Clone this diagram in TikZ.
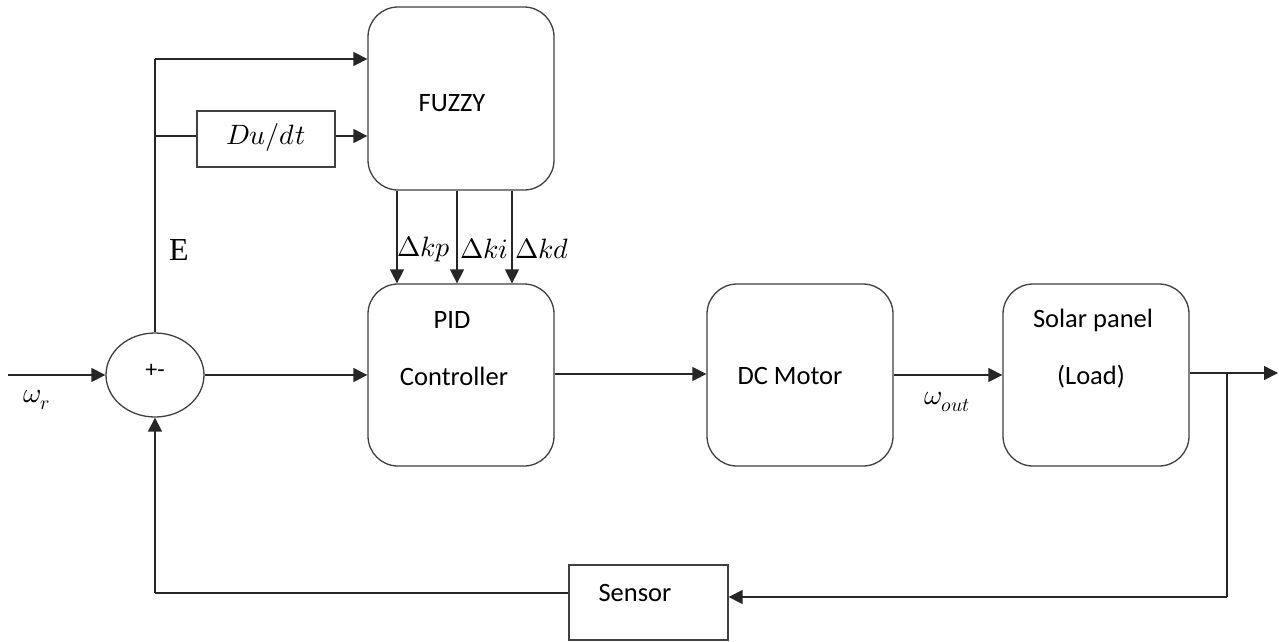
\documentclass[tikz,border=0pt]{standalone}
\usepackage{fontspec}
\setsansfont{Carlito}
\setmainfont{Liberation Serif}
\usepackage{unicode-math}
\setmathfont{Latin Modern Math}
\usetikzlibrary{arrows.meta,shapes.geometric}
\begin{document}
\begin{tikzpicture}[x=1pt,y=-1pt,
  blk/.style={draw=black!75,line width=1.3pt,rounded corners=30pt,minimum width=186pt,inner sep=0pt,fill=white},
  sq/.style={draw=black!75,line width=1.3pt,inner sep=0pt},
  txt/.style={font=\sffamily\fontsize{26.5}{30}\selectfont,inner sep=0pt},
  mth/.style={font=\fontsize{28}{32}\selectfont,inner sep=0pt},
  ln/.style={draw=black!85,line width=1.4pt},
  arr/.style={ln,-{Triangle[length=14pt,width=14pt]}}]
\useasboundingbox (0,0) rectangle (1279,641);
\fill[white] (0,0) rectangle (1279,641);
% blocks
\node[blk,minimum height=183pt] (fuzzy) at (461,98.5) {};
\node[blk,minimum height=182pt] (pid) at (461,375) {};
\node[blk,minimum height=182pt] (dc) at (800,375) {};
\node[blk,minimum height=182pt] (solar) at (1096,375) {};
\node[sq,minimum width=138pt,minimum height=56pt] (dudt) at (266,139) {};
\node[sq,minimum width=159pt,minimum height=75pt] (sensor) at (648.5,602.5) {};
\node[ellipse,draw=black!75,line width=1.3pt,minimum width=98pt,minimum height=84pt,inner sep=0pt] (sum) at (155,375) {};
% texts
\node[txt] (tfuzzy) at (452,103) {FUZZY};
\node[txt] (tpid) at (452,320) {PID};
\node[txt] (tctrl) at (454,376) {Controller};
\node[txt] (tdc) at (790,376) {DC Motor};
\node[txt] (tsolar) at (1093,320) {Solar panel};
\node[txt] (tload) at (1091,377) {(Load)};
\node[txt] (tsens) at (635,593) {Sensor};
\node[txt,font=\sffamily\fontsize{24}{28}\selectfont] (tsum) at (155,371) {+-};
\node[mth] (tdudt) at (266,137) {$Du/dt$};
\node[mth] (twr) at (37,400) {$\omega_r$};
\node[mth] (twout) at (947,402) {$\omega_{out}$};
\node[font=\fontsize{32}{36}\selectfont,inner sep=0pt] (tE) at (179,250) {E};
% coordinates
\coordinate (in) at (8,375);
\coordinate (top) at (155,59);
\coordinate (br) at (155,136);
\coordinate (out) at (1278,373);
\coordinate (tap) at (1227,373);
\coordinate (tapb) at (1227,597);
\coordinate (sb) at (155,593);
% connectors
\draw[arr] (in) -- (sum.west);
\draw[ln] (sum.north) -- (top);
\draw[arr] (top) -- (top -| fuzzy.west);
\draw[ln] (br) -- (br -| dudt.west);
\draw[arr] (dudt.east |- br) -- (br -| fuzzy.west);
\draw[arr] (sum.east) -- (sum.east -| pid.west);
\draw[arr] (pid.east |- 0,374) -- (dc.west |- 0,374);
\draw[arr] (dc.east) -- (solar.west);
\draw[arr] (solar.east |- out) -- (out);
\draw[ln] (tap) -- (tapb);
\draw[arr] (tapb) -- (tapb -| sensor.east);
\draw[ln] (sensor.west |- sb) -- (sb);
\draw[arr] (sb) -- (sum.south);
\foreach \x/\n in {397/p,457/i,512/d}{
  \draw[arr] (fuzzy.south -| \x,0) -- (pid.north -| \x,0);
}
\node[mth] (tkp) at (424,249) {$\Delta kp$};
\node[mth] (tki) at (484,249) {$\Delta ki$};
\node[mth] (tkd) at (542,249) {$\Delta kd$};
\end{tikzpicture}
\end{document}
